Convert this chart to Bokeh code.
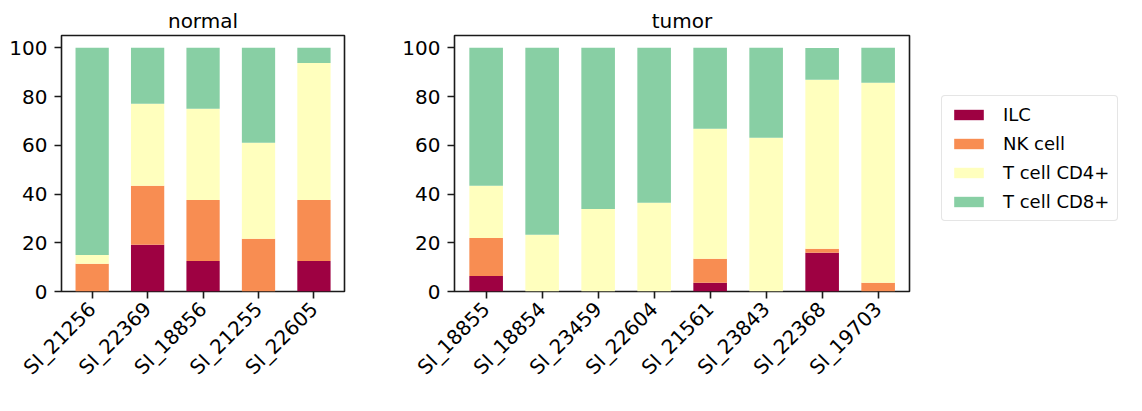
import math
from bokeh.plotting import figure
from bokeh.models import ColumnDataSource, FixedTicker, Legend, LegendItem, Range1d
from bokeh.layouts import row
from bokeh.embed import file_html
from bokeh.resources import INLINE

cell_types = ["ILC", "NK cell", "T cell CD4+", "T cell CD8+"]
colors = ["#9e0142", "#f88d52", "#ffffbe", "#88cfa4"]
yticks = [0, 20, 40, 60, 80, 100]

normal_samples = ["SI_21256", "SI_22369", "SI_18856", "SI_21255", "SI_22605"]
normal_ilc = [0.0, 19.2, 12.5, 0.0, 12.5]
normal_nk = [11.4, 24.2, 25.0, 21.6, 25.0]
normal_cd4 = [3.6, 33.6, 37.5, 39.4, 56.3]
normal_cd8 = [85.0, 23.0, 25.0, 39.0, 6.2]

tumor_samples = ["SI_18855", "SI_18854", "SI_23459", "SI_22604",
                 "SI_21561", "SI_23843", "SI_22368", "SI_19703"]
tumor_ilc = [6.4, 0.0, 0.0, 0.0, 3.6, 0.0, 15.9, 0.0]
tumor_nk = [15.6, 0.0, 0.0, 0.0, 9.8, 0.0, 1.6, 3.6]
tumor_cd4 = [21.4, 23.3, 33.9, 36.4, 53.4, 63.1, 69.4, 82.1]
tumor_cd8 = [56.6, 76.7, 66.1, 63.6, 33.2, 36.9, 13.0, 14.3]

FONT = "DejaVu Sans"
keys = ["ilc", "nk", "cd4", "cd8"]


def make_fig(title, samples, ilc, nk, cd4, cd8, frame_w, xr, left, right):
    src = ColumnDataSource(dict(x=list(range(len(samples))), ilc=ilc, nk=nk, cd4=cd4, cd8=cd8))
    p = figure(frame_width=frame_w, frame_height=256, output_backend="svg",
               toolbar_location=None, tools="",
               x_range=Range1d(*xr), y_range=Range1d(0, 105.05),
               min_border_left=left, min_border_right=right,
               min_border_top=35, min_border_bottom=104)
    p.vbar_stack(keys, x="x", width=0.6, source=src, color=colors, line_color=None)
    p.title.text = title
    p.title.align = "center"
    p.title.text_font = FONT
    p.title.text_font_size = "20px"
    p.title.text_font_style = "normal"
    p.title.text_color = "black"
    p.title.standoff = 6
    p.xgrid.visible = False
    p.ygrid.visible = False
    p.outline_line_color = "#1a1a1a"
    p.outline_line_width = 1.6
    p.background_fill_color = "white"
    for ax in (p.xaxis[0], p.yaxis[0]):
        ax.axis_line_color = None
        ax.major_tick_line_color = "#1a1a1a"
        ax.major_tick_line_width = 1.6
        ax.major_tick_out = 7
        ax.major_tick_in = 0
        ax.minor_tick_line_color = None
        ax.major_label_text_font = FONT
        ax.major_label_text_font_size = "20px"
        ax.major_label_text_color = "black"
        ax.major_label_standoff = 7
    p.xaxis.ticker = FixedTicker(ticks=list(range(len(samples))))
    p.xaxis.major_label_overrides = {i: s for i, s in enumerate(samples)}
    p.xaxis.major_label_orientation = math.pi / 4
    p.yaxis.ticker = FixedTicker(ticks=yticks)
    return p


p1 = make_fig("normal", normal_samples, normal_ilc, normal_nk, normal_cd4, normal_cd8,
              283, (-0.553, 4.551), 61, 10)
p2 = make_fig("tumor", tumor_samples, tumor_ilc, tumor_nk, tumor_cd4, tumor_cd8,
              455, (-0.565, 7.56), 100, 8)

# legend panel: an axis-less figure holding only the legend
p3 = figure(frame_width=212, frame_height=256, output_backend="svg",
            toolbar_location=None, tools="",
            x_range=Range1d(0, 1), y_range=Range1d(0, 1),
            x_axis_location=None, y_axis_location=None,
            min_border_left=0, min_border_right=0,
            min_border_top=35, min_border_bottom=104)
p3.xgrid.visible = False
p3.ygrid.visible = False
p3.outline_line_color = None
items = []
for lab, col in zip(cell_types, colors):
    # swatch-only renderers, their data lies outside the visible ranges
    r = p3.vbar(x=[50], top=[61], bottom=[60], width=0.5, color=col, line_color=None)
    items.append(LegendItem(label=lab, renderers=[r]))

legend = Legend(items=items, location=(24, 70))
legend.glyph_width = 37
legend.glyph_height = 13
legend.label_height = 20
legend.spacing = 8
legend.padding = 8
legend.margin = 0
legend.label_standoff = 16
legend.label_text_font = FONT
legend.label_text_font_size = "18px"
legend.label_text_color = "black"
legend.border_line_color = "#cccccc"
legend.border_line_width = 1.2
legend.background_fill_alpha = 1.0
if hasattr(legend, "border_radius"):
    legend.border_radius = 4
p3.add_layout(legend, "center")

layout = row(p1, p2, p3)
open("out.html", "w").write(file_html(layout, INLINE))
